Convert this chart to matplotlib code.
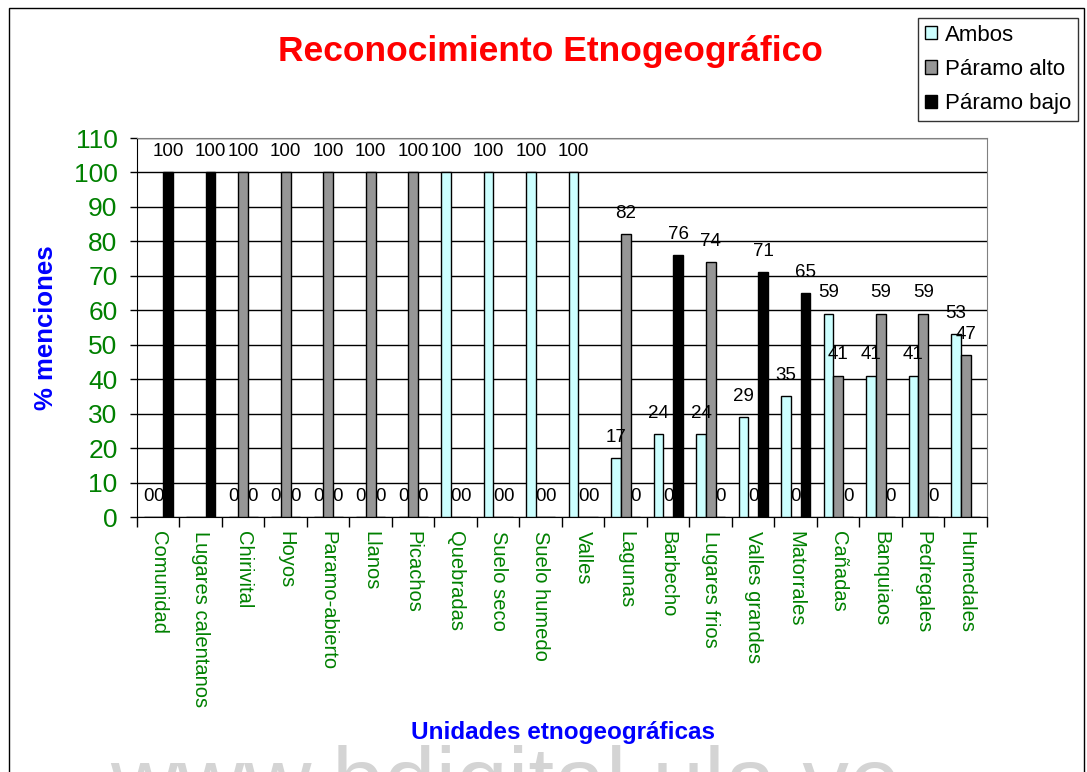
import matplotlib.pyplot as plt
import numpy as np
from matplotlib.patches import Rectangle

plt.rcParams['font.family'] = ['Liberation Sans', 'DejaVu Sans']

categorias = ['Comunidad', 'Lugares calentanos', 'Chirivital', 'Hoyos', 'Paramo-abierto',
              'Llanos', 'Picachos', 'Quebradas', 'Suelo seco', 'Suelo humedo', 'Valles',
              'Lagunas', 'Barbecho', 'Lugares frios', 'Valles grandes', 'Matorrales',
              'Cañadas', 'Banquiaos', 'Pedregales', 'Humedales']
nan = np.nan
ambos = [0, nan, 0, 0, 0, 0, 0, 100, 100, 100, 100, 17, 24, 24, 29, 35, 59, 41, 41, 53]
paramo_alto = [0, nan, 100, 100, 100, 100, 100, 0, 0, 0, 0, 82, 0, 74, 0, 0, 41, 59, 59, 47]
paramo_bajo = [100, 100, 0, 0, 0, 0, 0, 0, 0, 0, 0, 0, 76, 0, 71, 65, 0, 0, 0, nan]

series = [('Ambos', ambos, '#CCFFFF'),
          ('Páramo alto', paramo_alto, '#969696'),
          ('Páramo bajo', paramo_bajo, '#000000')]

fig = plt.figure(figsize=(10.87, 7.72), dpi=100)
ax = fig.add_axes([0.126, 0.3303, 0.782, 0.4909])

x = np.arange(len(categorias))
w = 0.23
for k, (nombre, vals, color) in enumerate(series):
    vals = np.array(vals, dtype=float)
    pos = x + (k - 1) * w
    ax.bar(pos, np.nan_to_num(vals), width=w, color=color, edgecolor='black',
           linewidth=1, label=nombre, zorder=3)
    # etiquetas de valor (los ceros también se muestran)
    for xi, v in zip(pos, vals):
        if np.isnan(v):
            continue
        ax.annotate('%d' % v, (xi, v), xytext=(0, 15), textcoords='offset points',
                    ha='center', va='center', fontsize=13.5, color='black', zorder=4)

ax.set_xlim(-0.5, len(categorias) - 0.5)
ax.set_ylim(0, 110)
ax.set_yticks(range(0, 111, 10))
ax.yaxis.grid(True, color='black', linewidth=1, zorder=0)
ax.set_axisbelow(True)
ax.tick_params(axis='y', labelsize=19, labelcolor='#008000', length=5, width=1, pad=9)

ax.set_xticks(x)
ax.set_xticklabels(categorias, rotation=-90, fontsize=14.5, color='#008000', va='top')
ax.tick_params(axis='x', which='major', length=0, pad=10)
ax.set_xticks(np.arange(-0.5, len(categorias)), minor=True)
ax.tick_params(axis='x', which='minor', length=7, width=1)

for s in ['top', 'right']:
    ax.spines[s].set_color('#808080')
for s in ['left', 'bottom']:
    ax.spines[s].set_color('black')

fig.text(0.042, 0.576, '% menciones', ha='center', va='center', rotation=90,
         fontsize=18.5, fontweight='bold', color='#0000FF')
fig.text(0.518, 0.051, 'Unidades etnogeográficas', ha='center', va='center',
         fontsize=17.5, fontweight='bold', color='#0000FF')
fig.text(0.506, 0.933, 'Reconocimiento Etnogeográfico', ha='center', va='center',
         fontsize=25.5, fontweight='bold', color='#FF0000')

leg = ax.legend(loc='upper left', bbox_to_anchor=(0.8445, 0.9767), bbox_transform=fig.transFigure,
                fontsize=16, frameon=True, fancybox=False, edgecolor='black',
                handlelength=0.55, handleheight=0.55, handletextpad=0.35,
                labelspacing=0.6, borderpad=0.3, borderaxespad=0)
leg.get_frame().set_linewidth(1)

# marco exterior y marca de agua
fig.patches.append(Rectangle((0.008, -0.01), 0.989, 0.999, transform=fig.transFigure,
                             fill=False, edgecolor='black', linewidth=1))
fig.text(0.465, 0.035, 'www.bdigital.ula.ve', ha='center', va='top', fontsize=67,
         color='#d4d4d4')

fig.savefig('out.png', dpi=100)
